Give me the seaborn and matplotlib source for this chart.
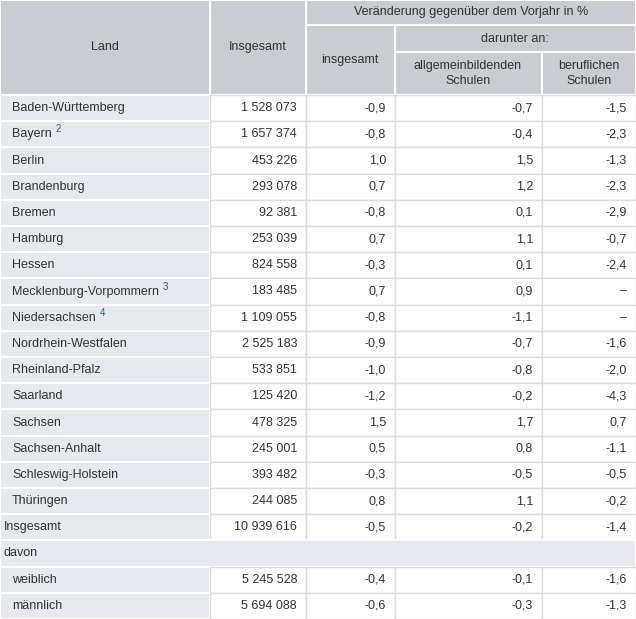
import matplotlib
matplotlib.use("Agg")
import matplotlib.pyplot as plt
from matplotlib.patches import Rectangle
import seaborn as sns

sns.set_theme(style="white")
plt.rcParams['font.family'] = ['Liberation Sans', 'DejaVu Sans']

laender = ["Baden-Württemberg", "Bayern", "Berlin", "Brandenburg", "Bremen", "Hamburg", "Hessen",
           "Mecklenburg-Vorpommern", "Niedersachsen", "Nordrhein-Westfalen", "Rheinland-Pfalz",
           "Saarland", "Sachsen", "Sachsen-Anhalt", "Schleswig-Holstein", "Thüringen"]
fussnoten = {"Bayern": "2", "Mecklenburg-Vorpommern": "3", "Niedersachsen": "4"}
insgesamt = ["1 528 073", "1 657 374", "453 226", "293 078", "92 381", "253 039", "824 558",
             "183 485", "1 109 055", "2 525 183", "533 851", "125 420", "478 325", "245 001",
             "393 482", "244 085"]
veraend = ["-0,9", "-0,8", "1,0", "0,7", "-0,8", "0,7", "-0,3", "0,7", "-0,8", "-0,9", "-1,0",
           "-1,2", "1,5", "0,5", "-0,3", "0,8"]
allg = ["-0,7", "-0,4", "1,5", "1,2", "0,1", "1,1", "0,1", "0,9", "-1,1", "-0,7", "-0,8",
        "-0,2", "1,7", "0,8", "-0,5", "1,1"]
beruf = ["-1,5", "-2,3", "-1,3", "-2,3", "-2,9", "-0,7", "-2,4", "–", "–", "-1,6", "-2,0",
         "-4,3", "0,7", "-1,1", "-0,5", "-0,2"]
summe = ["Insgesamt", "10 939 616", "-0,5", "-0,2", "-1,4"]
geschlecht = ["weiblich", "männlich"]
g_ins = ["5 245 528", "5 694 088"]
g_ver = ["-0,4", "-0,6"]
g_allg = ["-0,1", "-0,3"]
g_beruf = ["-1,6", "-1,3"]

W, H = 636, 619
fig = plt.figure(figsize=(W/100, H/100), dpi=100)
ax = fig.add_axes([0, 0, 1, 1])
ax.set_xlim(0, W); ax.set_ylim(H, 0); ax.axis("off")

cols = [0, 210, 306, 395, 542, 636]
HDR = "#c9ccd1"; GREY = "#e6e9ed"; LINE = "#dcdcdc"; TXT = "#333333"; FS = 9

def cell(x0, y0, x1, y1, fc, ec="white", lw=1.5):
    ax.add_patch(Rectangle((x0, y0), x1-x0, y1-y0, fc=fc, ec=ec, lw=lw))

def txt(x, y, s, ha="left", **kw):
    ax.text(x, y, s, ha=ha, va="center", fontsize=FS, color=TXT, **kw)

# header
cell(0, 0, 210, 95, HDR); txt(105, 47, "Land", "center")
cell(210, 0, 306, 95, HDR); txt(258, 47, "Insgesamt", "center")
cell(306, 0, 636, 25, HDR); txt(471, 12.5, "Veränderung gegenüber dem Vorjahr in %", "center")
cell(306, 25, 395, 95, HDR); txt(350, 60, "insgesamt", "center")
cell(395, 25, 636, 52, HDR); txt(515, 38.5, "darunter an:", "center")
cell(395, 52, 542, 95, HDR); txt(468, 73.5, "allgemeinbildenden\nSchulen", "center", linespacing=1.4)
cell(542, 52, 636, 95, HDR); txt(589, 73.5, "beruflichen\nSchulen", "center", linespacing=1.4)

rh = (H - 95) / 20.0
rows = []
for i, l in enumerate(laender):
    rows.append((l, 12, [insgesamt[i], veraend[i], allg[i], beruf[i]]))
rows.append((summe[0], 4, summe[1:]))
rows.append(("davon", 4, None))
for i, g in enumerate(geschlecht):
    rows.append((g, 12, [g_ins[i], g_ver[i], g_allg[i], g_beruf[i]]))

for r, (lab, ind, vals) in enumerate(rows):
    y0 = 95 + r*rh; y1 = y0 + rh; yc = (y0+y1)/2
    if vals is None:
        cell(0, y0, W, y1, GREY)
        txt(ind, yc, lab)
        continue
    cell(0, y0, 210, y1, GREY)
    t = ax.text(ind, yc, lab, ha="left", va="center", fontsize=FS, color=TXT)
    if lab in fussnoten:
        fig.canvas.draw()
        bb = t.get_window_extent().transformed(ax.transData.inverted())
        ax.text(bb.x1 + 4, yc - 5, fussnoten[lab], fontsize=7, color="#1f5f8b", va="center")
    for c in range(4):
        cell(cols[c+1], y0, cols[c+2], y1, "white", LINE, 1)
        txt(cols[c+2] - 9, yc, vals[c], "right")

fig.savefig("out.png", dpi=100)
